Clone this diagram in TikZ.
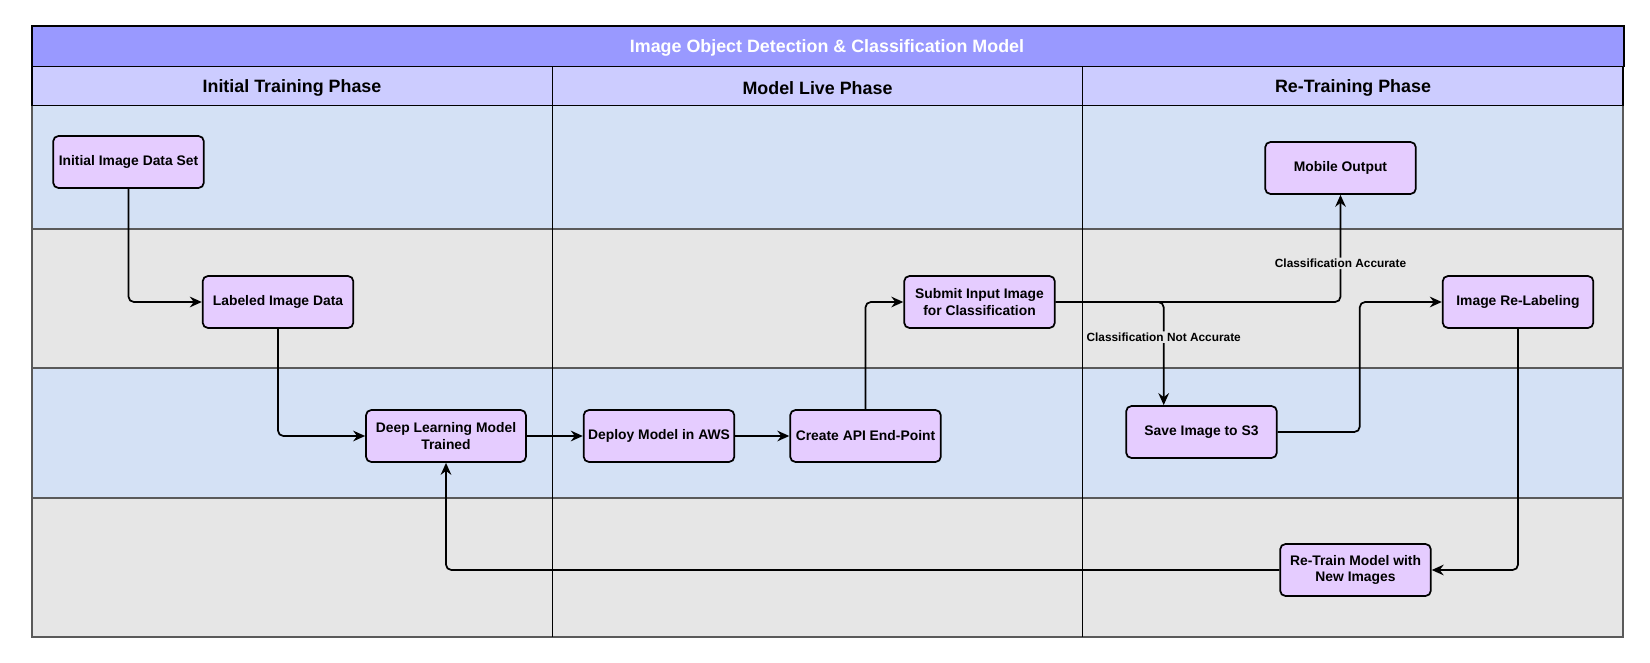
\documentclass[tikz,border=0pt]{standalone}
\usepackage{fontspec}
\setmainfont{Liberation Sans}
\usetikzlibrary{positioning,arrows.meta,calc}
\definecolor{titleblue}{RGB}{153,153,255}
\definecolor{headblue}{RGB}{204,204,255}
\definecolor{laneblue}{RGB}{212,225,245}
\definecolor{lanegray}{RGB}{230,230,230}
\definecolor{boxlilac}{RGB}{229,204,255}
\definecolor{laneline}{RGB}{90,90,90}

\begin{document}
\begin{tikzpicture}
[x=0.75pt,y=-0.75pt,
 proc/.style={draw,rectangle,rounded corners=4pt,line width=1.3pt,fill=boxlilac,minimum width=113pt,minimum height=39pt,inner sep=2pt,align=center,font=\fontsize{10.4}{12.3}\selectfont\bfseries},
 flow/.style={draw,line width=1.3pt,rounded corners=4pt,-{Stealth[length=9pt,width=8pt,inset=3pt]}},
 cond/.style={fill=lanegray,inner sep=1pt,font=\fontsize{8.9}{10}\selectfont\bfseries},
 phase/.style={font=\fontsize{13.4}{16}\selectfont\bfseries}]
\useasboundingbox (0,0) rectangle (1650,663);

% swim lanes
\foreach \ya/\yb/\c in {105.5/229/laneblue,229/368/lanegray,368/498/laneblue,498/637/lanegray}
  \draw[laneline,line width=1pt,fill=\c] (32,\ya) rectangle (1623,\yb);
\draw[fill=headblue,line width=1pt] (32,66.5) rectangle (1623,105.5);
\draw[line width=1.3pt] (32,105.5) -- (1623,105.5);
\foreach \x in {552.5,1082.5}
  \draw[line width=0.6pt] (\x,66.5) -- (\x,637);
\draw[fill=titleblue,line width=1.2pt] (32,26) rectangle (1624,66.5);

\node[phase,text=white] (title) at (827,48) {Image Object Detection \& Classification Model};
\node[phase] (phinit) at (292,88) {Initial Training Phase};
\node[phase] (phlive) at (817.5,88) {Model Live Phase};
\node[phase] (phretrain) at (1353,88) {Re-Training Phase};

% steps
\node[proc] (initset) at (128.5,162) {Initial Image Data Set};
\node[proc] (labeled) at (278,302) {Labeled Image Data};
\node[proc,minimum width=120pt] (dltrain) at (446,436) {Deep Learning Model\\Trained};
\node[proc] (deploy) at (659,436) {Deploy Model in AWS};
\node[proc] (apiend) at (865.5,436) {Create API End-Point};
\node[proc] (submit) at (979.5,302) {Submit Input Image\\for Classification};
\node[proc] (mobile) at (1340.5,168) {Mobile Output};
\node[proc] (relabel) at (1518,302) {Image Re-Labeling};
\node[proc] (save) at (1201.5,432) {Save Image to S3};
\node[proc] (retrain) at (1355.5,570) {Re-Train Model with\\New Images};
\coordinate (split) at (1163.7,302);

% flows
\draw[flow] (initset.south) |- (labeled.west);
\draw[flow] (labeled.south) |- (dltrain.west);
\draw[flow] (dltrain) -- (deploy);
\draw[flow] (deploy) -- (apiend);
\draw[flow] (apiend.north) |- (submit.west);
\draw[flow] (submit.east) -| node[cond,pos=0.68] {Classification Accurate} (mobile.south);
\draw[flow] (submit.east) -| node[cond,pos=0.67] {Classification Not Accurate} (split |- save.north);
\draw[flow] (save.east) -| ($(save.east)!0.5!(relabel.west)$) |- (relabel.west);
\draw[flow] (relabel.south) |- (retrain.east);
\draw[flow] (retrain.west) -| (dltrain.south);
\end{tikzpicture}
\end{document}
